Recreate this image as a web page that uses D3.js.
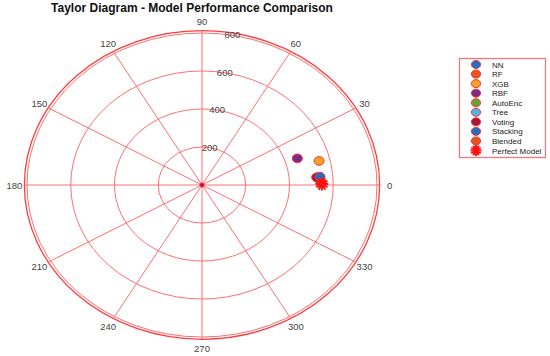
<!DOCTYPE html>
<html>
<head>
<meta charset="utf-8">
<script src="https://cdn.jsdelivr.net/npm/d3@7"></script>
<style>
  body { margin: 0; background: #fff; }
  svg { font-family: "Liberation Sans", Arial, sans-serif; }
</style>
</head>
<body>
<svg id="chart" width="550" height="356"></svg>
<script>
// model stats: std dev and angle (deg) on the polar grid
var models = ["NN", "RF", "XGB", "RBF", "AutoEnc", "Tree", "Voting", "Stacking", "Blended"];
var stdDev = [538, 530, 550, 458, 528, 532, 526, 541, 546];
var angleDeg = [4.5, 4.0, 13.3, 17.8, 4.2, 4.3, 4.4, 4.6, 1.0];
var colors = ["#1f6fc4", "#e4561f", "#f0a526", "#7a2b8c", "#6aa533", "#4fb6e6", "#a3173a", "#1f6fc4", "#e4561f"];
var perfectStd = 548;

var ringValues = [200, 400, 600, 800];
var angleTicks = [0, 30, 60, 90, 120, 150, 180, 210, 240, 270, 300, 330];

var svg = d3.select("#chart");
var cx = 202, cy = 185;
var rx = d3.scaleLinear().domain([0, 800]).range([0, 175]);
var ry = d3.scaleLinear().domain([0, 800]).range([0, 152]);

function px(r, deg) { return cx + rx(r) * Math.cos(deg * Math.PI / 180); }
function py(r, deg) { return cy - ry(r) * Math.sin(deg * Math.PI / 180); }

svg.append("text")
  .attr("x", 192).attr("y", 12)
  .attr("text-anchor", "middle")
  .attr("font-size", 12).attr("font-weight", "bold")
  .attr("fill", "#111")
  .text("Taylor Diagram - Model Performance Comparison");

var g = svg.append("g");

// rings
g.selectAll("ellipse.ring")
  .data(ringValues)
  .enter().append("ellipse")
  .attr("class", "ring")
  .attr("cx", cx).attr("cy", cy)
  .attr("rx", function(d) { return rx(d); })
  .attr("ry", function(d) { return ry(d); })
  .attr("fill", "none")
  .attr("stroke", "#ff6f6f")
  .attr("stroke-width", 1);

// outer border
g.append("ellipse")
  .attr("cx", cx).attr("cy", cy)
  .attr("rx", rx(812)).attr("ry", ry(812))
  .attr("fill", "none")
  .attr("stroke", "#ff3c3c")
  .attr("stroke-width", 1.3);

// spokes
g.selectAll("line.spoke")
  .data(angleTicks)
  .enter().append("line")
  .attr("x1", cx).attr("y1", cy)
  .attr("x2", function(d) { return px(812, d); })
  .attr("y2", function(d) { return py(812, d); })
  .attr("stroke", "#ff6f6f")
  .attr("stroke-width", 1);

// angle labels
g.selectAll("text.ang")
  .data(angleTicks)
  .enter().append("text")
  .attr("x", function(d) { return px(858, d); })
  .attr("y", function(d) { return py(858, d) + 3.5; })
  .attr("text-anchor", "middle")
  .attr("font-size", 9.5)
  .attr("fill", "#444")
  .text(function(d) { return d; });

// radial labels
g.selectAll("text.rad")
  .data(ringValues)
  .enter().append("text")
  .attr("x", function(d) { return px(d, 80); })
  .attr("y", function(d) { return py(d, 80) + 3; })
  .attr("text-anchor", "middle")
  .attr("font-size", 9.5)
  .attr("fill", "#444")
  .text(function(d) { return d; });

// centre dot
g.append("ellipse")
  .attr("cx", cx).attr("cy", cy).attr("rx", 2.2).attr("ry", 2)
  .attr("fill", "#a3173a").attr("stroke", "#ff3030").attr("stroke-width", 0.8);

// model points
g.selectAll("ellipse.pt")
  .data(models)
  .enter().append("ellipse")
  .attr("cx", function(d, i) { return px(stdDev[i], angleDeg[i]); })
  .attr("cy", function(d, i) { return py(stdDev[i], angleDeg[i]); })
  .attr("rx", 5).attr("ry", 4.4)
  .attr("fill", function(d, i) { return colors[i]; })
  .attr("stroke", "#ff3030").attr("stroke-width", 1);

function star(sel, x, y, s) {
  var arms = [0, 30, 60, 90, 120, 150];
  sel.append("g").selectAll("line")
    .data(arms)
    .enter().append("line")
    .attr("x1", function(a) { return x - s * Math.cos(a * Math.PI / 180); })
    .attr("y1", function(a) { return y - s * Math.sin(a * Math.PI / 180); })
    .attr("x2", function(a) { return x + s * Math.cos(a * Math.PI / 180); })
    .attr("y2", function(a) { return y + s * Math.sin(a * Math.PI / 180); })
    .attr("stroke", "#ff1010").attr("stroke-width", 2);
  sel.append("circle").attr("cx", x).attr("cy", y).attr("r", 2.8).attr("fill", "#ff1010");
}
star(g, px(perfectStd, 0), py(perfectStd, 0) - 1, 6.5);

// legend
var lg = svg.append("g");
lg.append("rect")
  .attr("x", 459.5).attr("y", 58.5).attr("width", 86).attr("height", 99)
  .attr("fill", "#fff").attr("stroke", "#ff6f6f").attr("stroke-width", 1.2);

var labels = models.concat(["Perfect Model"]);
var ly = d3.scaleLinear().domain([0, 9]).range([64.5, 150.5]);

lg.selectAll("ellipse.lk")
  .data(models)
  .enter().append("ellipse")
  .attr("cx", 476).attr("cy", function(d, i) { return ly(i); })
  .attr("rx", 4.6).attr("ry", 4)
  .attr("fill", function(d, i) { return colors[i]; })
  .attr("stroke", "#ff3030").attr("stroke-width", 1);
star(lg, 476, ly(9), 5.5);

lg.selectAll("text.lt")
  .data(labels)
  .enter().append("text")
  .attr("x", 492).attr("y", function(d, i) { return ly(i) + 3; })
  .attr("font-size", 8)
  .attr("fill", "#222")
  .text(function(d) { return d; });
</script>
</body>
</html>
